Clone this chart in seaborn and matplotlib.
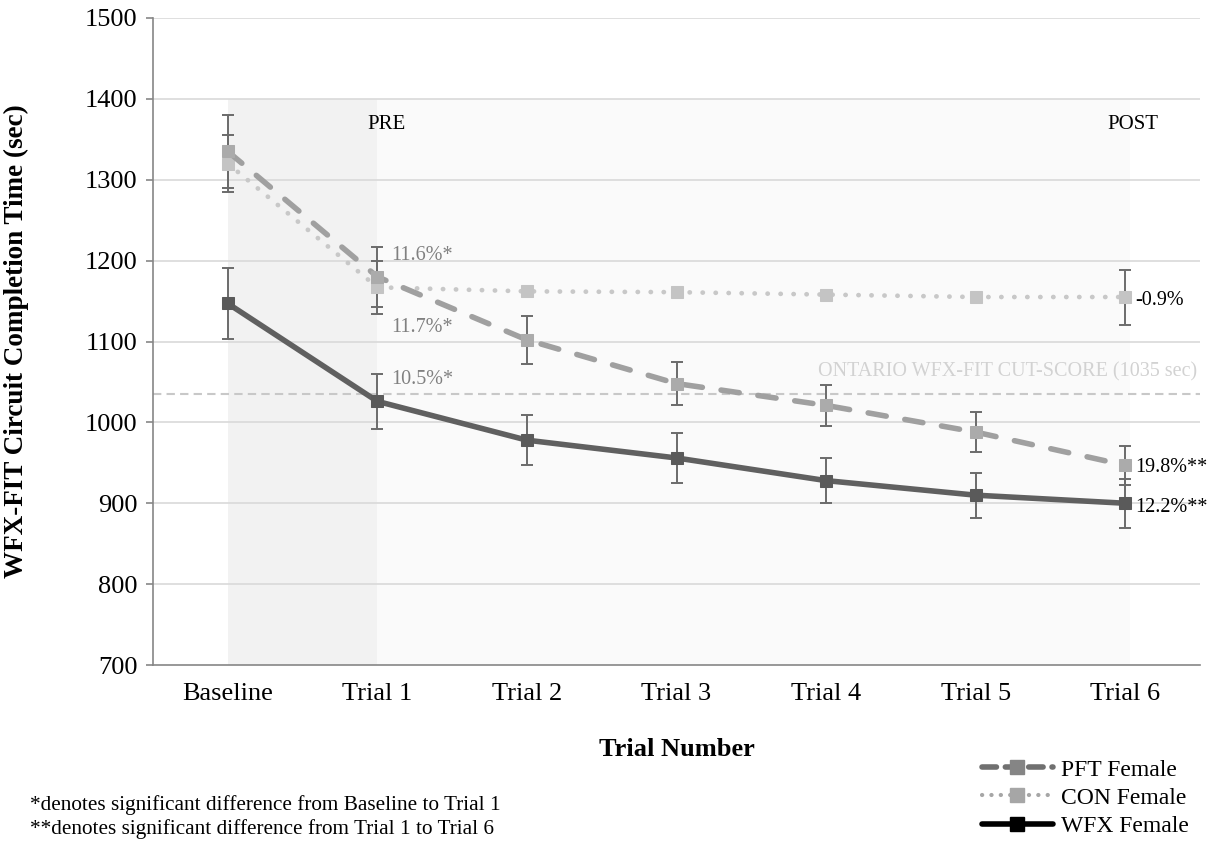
import numpy as np
import pandas as pd
import matplotlib
matplotlib.use("Agg")
import matplotlib.pyplot as plt
from matplotlib.lines import Line2D
import seaborn as sns

# ---------------- data ----------------
trials = ["Baseline", "Trial 1", "Trial 2", "Trial 3", "Trial 4", "Trial 5", "Trial 6"]
pft_mean = [1335, 1180, 1102, 1048, 1021, 988, 947]
pft_err = [45, 37, 30, 27, 25, 25, 24]
con_mean = [1320, 1167, 1162, 1161, 1158, 1155, 1155]
con_err = [35, 33, 0, 0, 0, 0, 34]
wfx_mean = [1147, 1026, 978, 956, 928, 910, 900]
wfx_err = [44, 34, 31, 31, 28, 28, 30]
series_names = ["PFT Female", "CON Female", "WFX Female"]
cut_score = 1035
pct_labels_t1 = ["11.6%*", "11.7%*", "10.5%*"]
pct_labels_t6 = ["-0.9%", "19.8%**", "12.2%**"]
footnotes = ["*denotes significant difference from Baseline to Trial 1",
             "**denotes significant difference from Trial 1 to Trial 6"]

# ---------------- style ----------------
sns.set_style("white")
plt.rcParams["font.family"] = ["Liberation Serif", "DejaVu Serif"]
plt.rcParams["text.color"] = "black"
plt.rcParams["axes.labelcolor"] = "black"
plt.rcParams["xtick.color"] = "black"
plt.rcParams["ytick.color"] = "black"

W, H = 1222, 843
fig = plt.figure(figsize=(W / 100, H / 100), dpi=100)
ax = fig.add_axes([153 / W, 1 - 665 / H, (1200 - 153) / W, (665 - 18) / H])

x = np.arange(len(trials))
df = pd.DataFrame({
    "x": np.tile(x, 3),
    "y": pft_mean + con_mean + wfx_mean,
    "group": np.repeat(series_names, len(trials)),
})

# background shading
ax.fill_between([0, 1], 700, 1400, color="#f2f2f2", zorder=0, lw=0)
ax.fill_between([1, 6.03], 700, 1400, color="#fafafa", zorder=0, lw=0)

# grid
for v in range(800, 1501, 100):
    ax.axhline(v, color="#d9d9d9", lw=1.2, zorder=0.5)

# cut-score line
ax.axhline(cut_score, color="#c8c8c8", lw=1.5, ls=(0, (4, 2.5)), zorder=1)
ax.text(6.48, cut_score + 16, "ONTARIO WFX-FIT CUT-SCORE (1035 sec)", ha="right", va="bottom",
        color="#d2d2d2", fontsize=14.5)

# error bars
eb = dict(fmt="none", elinewidth=1.4, capsize=4, capthick=1.4, zorder=2)
ax.errorbar(x, pft_mean, yerr=pft_err, ecolor="#6b6b6b", **eb)
con_idx = [i for i, e in enumerate(con_err) if e > 0]
ax.errorbar(x[con_idx], [con_mean[i] for i in con_idx], yerr=[con_err[i] for i in con_idx],
            ecolor="#6b6b6b", **eb)
ax.errorbar(x, wfx_mean, yerr=wfx_err, ecolor="#6b6b6b", **eb)

# lines
sns.lineplot(data=df[df.group == "CON Female"], x="x", y="y", ax=ax, color="#c8c8c8",
             lw=3.4, linestyle=(0, (0.05, 2.7)), marker="s", markersize=9,
             markerfacecolor="#c4c4c4", markeredgecolor="#c4c4c4", zorder=3,
             dash_capstyle="round", legend=False)
sns.lineplot(data=df[df.group == "PFT Female"], x="x", y="y", ax=ax, color="#a0a0a0",
             lw=4, linestyle=(0, (3.3, 3.4)), marker="s", markersize=9,
             markerfacecolor="#ababab", markeredgecolor="#ababab", zorder=4,
             dash_capstyle="round", legend=False)
sns.lineplot(data=df[df.group == "WFX Female"], x="x", y="y", ax=ax, color="#606060",
             lw=4, marker="s", markersize=9, markerfacecolor="#5a5a5a",
             markeredgecolor="#5a5a5a", zorder=5, legend=False)

# annotations
ax.text(1.06, 1368, "PRE", ha="center", va="center", fontsize=15)
ax.text(6.05, 1368, "POST", ha="center", va="center", fontsize=15)
t1_y = [1206, 1117, 1053]
for lab, yy in zip(pct_labels_t1, t1_y):
    ax.text(1.09, yy, lab, ha="left", va="center", fontsize=14.5, color="#808080")
t6_y = [1151, 944, 895]
for lab, yy in zip(pct_labels_t6, t6_y):
    ax.text(6.07, yy, lab, ha="left", va="center", fontsize=14.5)

# axes
ax.set_xlim(-0.5, 6.5)
ax.set_ylim(700, 1500)
ax.set_yticks(range(700, 1501, 100))
ax.set_xticks(x)
ax.set_xticklabels(trials)
ax.set_xticks(np.arange(-0.5, 6.6, 1), minor=True)
ax.tick_params(axis="x", which="major", length=0, pad=13, labelsize=19)
ax.tick_params(axis="x", which="minor", length=6, width=1.2, color="#868686", direction="out")
ax.tick_params(axis="y", which="major", length=5, width=1.2, color="#868686", pad=6,
               labelsize=19, left=True, direction="out")
for s in ["top", "right"]:
    ax.spines[s].set_visible(False)
for s in ["left", "bottom"]:
    ax.spines[s].set_color("#868686")
    ax.spines[s].set_linewidth(1.2)
ax.grid(False)

ax.set_xlabel("Trial Number", fontsize=19, fontweight="bold")
ax.xaxis.set_label_coords(0.5, -0.113)
ax.set_ylabel("WFX-FIT Circuit Completion Time (sec)", fontsize=19.5, fontweight="bold")
ax.yaxis.set_label_coords(-0.118, 0.5)

# footnotes
fig.text(30 / W, 1 - 805 / H, footnotes[0], ha="left", va="center", fontsize=15.3)
fig.text(30 / W, 1 - 829 / H, footnotes[1], ha="left", va="center", fontsize=15.3)

# legend
handles = [
    Line2D([], [], color="#707070", lw=4, ls=(0, (2.6, 1.6)), marker="s", markersize=10,
           markerfacecolor="#858585", markeredgecolor="#858585", dash_capstyle="round"),
    Line2D([], [], color="#a6a6a6", lw=3, ls=(0, (0.05, 2.2)), marker="s", markersize=10,
           markerfacecolor="#a6a6a6", markeredgecolor="#a6a6a6", dash_capstyle="round"),
    Line2D([], [], color="black", lw=4, marker="s", markersize=10,
           markerfacecolor="black", markeredgecolor="black"),
]
fig.legend(handles, series_names, loc="center left", bbox_to_anchor=(982 / W, 1 - 798 / H),
           frameon=False, fontsize=17, handlelength=3.0, handletextpad=0.35,
           labelspacing=0.28, borderpad=0, borderaxespad=0)

fig.savefig("out.png", dpi=100)
